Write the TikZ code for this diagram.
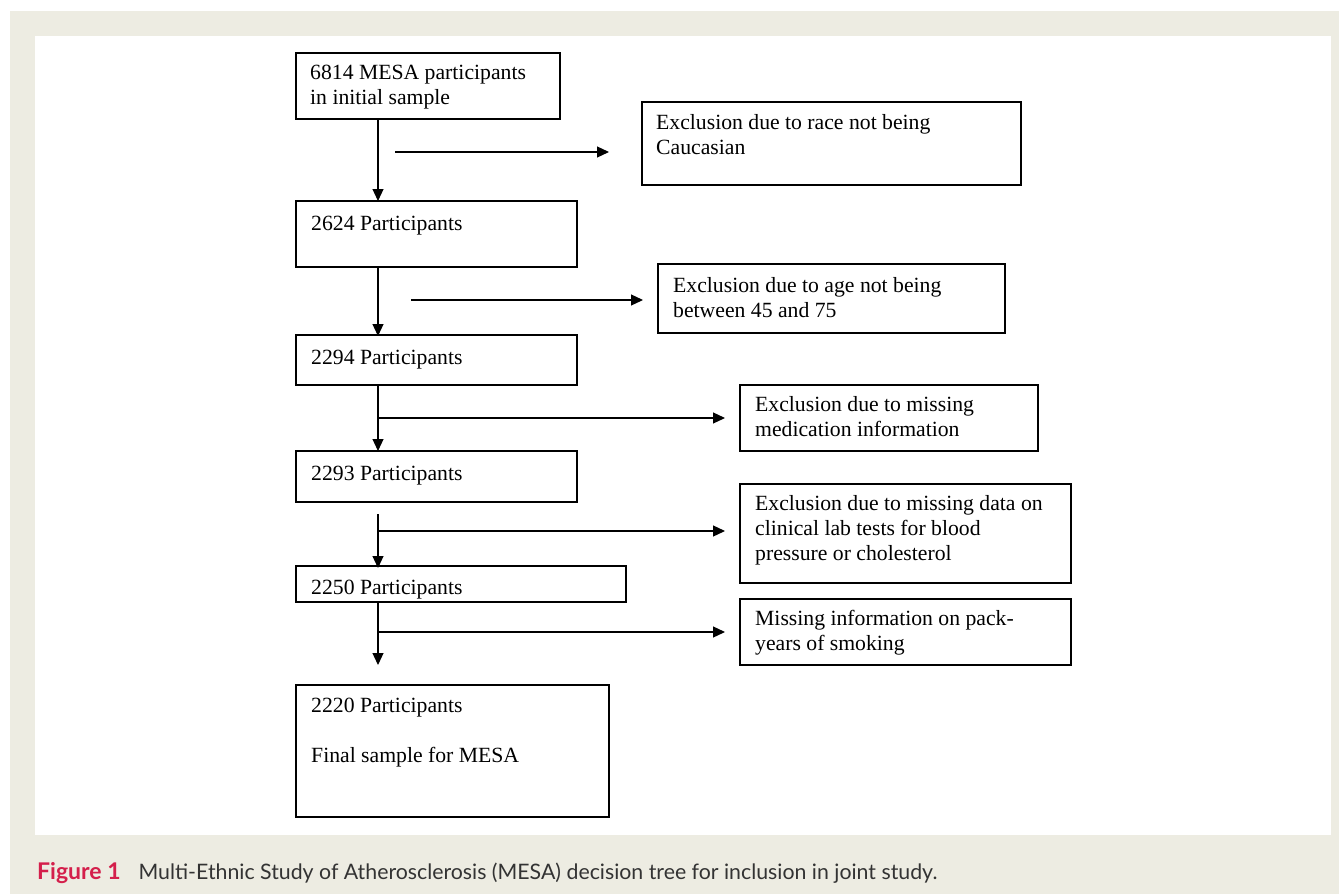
\documentclass[tikz,border=0pt]{standalone}
\usepackage{fontspec}
\setmainfont{Liberation Serif}
\newfontfamily\capfont{Lato}
\usetikzlibrary{arrows.meta}
\definecolor{beige}{HTML}{EDECE2}
\definecolor{crim}{HTML}{D41F4B}
\definecolor{captxt}{HTML}{333333}
\begin{document}
\begin{tikzpicture}[x=1pt,y=-1pt,
  box/.style={draw=black, line width=1.2pt, rectangle, inner sep=0pt, outer sep=0pt, anchor=north west},
  txt/.style={anchor=north west, inner sep=0pt, align=left, font=\fontsize{21.7}{25}\selectfont, execute at begin node=\strut},
  arr/.style={line width=1.2pt, -{Triangle[length=12pt,width=11pt]}}]
\useasboundingbox (0,0) rectangle (1339,894);
\fill[white] (0,0) rectangle (1339,894);
\fill[beige] (10,11) rectangle (1339,894);
\fill[white] (35,36) rectangle (1331,835);

% main boxes
\node[box, minimum width=264pt, minimum height=66pt] (b1) at (296,53) {};
\node[box, minimum width=281pt, minimum height=66pt] (b2) at (296,201) {};
\node[box, minimum width=281pt, minimum height=50pt] (b3) at (296,335) {};
\node[box, minimum width=281pt, minimum height=51pt] (b4) at (296,451) {};
\node[box, minimum width=330pt, minimum height=36pt] (b5) at (296,566) {};
\node[box, minimum width=313pt, minimum height=132pt] (b6) at (296,685) {};
% exclusion boxes
\node[box, minimum width=379pt, minimum height=83pt] (e1) at (642,102) {};
\node[box, minimum width=347pt, minimum height=69pt] (e2) at (658,264) {};
\node[box, minimum width=298pt, minimum height=66pt] (e3) at (740,385) {};
\node[box, minimum width=331pt, minimum height=99pt] (e4) at (740,484) {};
\node[box, minimum width=331pt, minimum height=66pt] (e5) at (740,599) {};

% texts
\node[txt] (t1) at (310,64.5) {6814 MESA participants\\in initial sample};
\node[txt] (t2) at (311,212.5) {2624 Participants};
\node[txt] (t3) at (311,346.5) {2294 Participants};
\node[txt] (t4) at (311,462.5) {2293 Participants};
\node[txt] (t5) at (311,576.5) {2250 Participants};
\node[txt] (t6) at (311,697.5) {2220 Participants\\[25pt]Final sample for MESA};
\node[txt] (u1) at (656,114.5) {Exclusion due to race not being\\Caucasian};
\node[txt] (u2) at (673,277.5) {Exclusion due to age not being\\between 45 and 75};
\node[txt] (u3) at (755,396.5) {Exclusion due to missing\\medication information};
\node[txt] (u4) at (755,495.5) {Exclusion due to missing data on\\clinical lab tests for blood\\pressure or cholesterol};
\node[txt] (u5) at (755,610.5) {Missing information on pack-\\years of smoking};

% connectors
\coordinate (sp) at (378,0);
\draw[arr] (b1.south -| sp) -- (b2.north -| sp);
\coordinate (h1a) at (395,152);
\coordinate (h1b) at (609,152);
\draw[arr] (h1a) -- (h1b);
\draw[arr] (b2.south -| sp) -- ([yshift=-1pt]b3.north -| sp);
\coordinate (h2a) at (411,300);
\coordinate (h2b) at (643,300);
\draw[arr] (h2a) -- (h2b);
\draw[arr] (b3.south -| sp) -- (b4.north -| sp);
\draw[arr] (sp |- 0,418) -- ([xshift=-15pt]e3.west |- 0,418);
\coordinate (v4a) at (378,514);
\draw[arr] (v4a) -- ([yshift=-2pt]b5.north -| sp);
\draw[arr] (sp |- 0,531) -- ([xshift=-15pt]e4.west |- 0,531);
\coordinate (v5b) at (378,665);
\draw[arr] (b5.south -| sp) -- (v5b);
\draw[arr] (sp |- 0,632) -- ([xshift=-15pt]e5.west |- 0,632);

% caption
\node[anchor=base west, inner sep=0pt, font=\capfont\fontsize{21.3}{24}\selectfont] (cap) at (37,879)
  {{\fontsize{23}{24}\selectfont\bfseries\color{crim}Figure 1}\hspace{18pt}{\color{captxt}Multi-Ethnic Study of Atherosclerosis (MESA) decision tree for inclusion in joint study.}};
\end{tikzpicture}
\end{document}
